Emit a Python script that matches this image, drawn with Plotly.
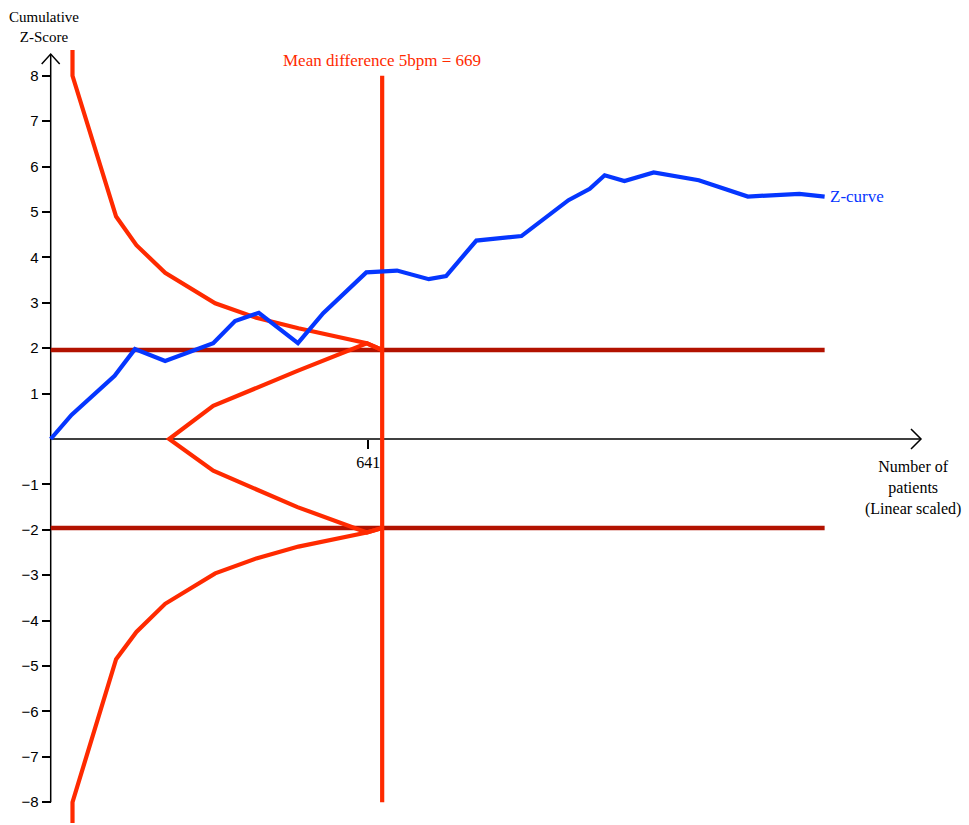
import plotly.graph_objects as go

# ---------------- data ----------------
z_patients = [0, 42, 129, 170, 231, 328, 372, 420, 499, 550, 637, 699, 763, 798,
              859, 950, 1045, 1088, 1118, 1158, 1217, 1308, 1407, 1511, 1562]
z_scores = [0, 0.53, 1.39, 1.98, 1.72, 2.11, 2.60, 2.78, 2.11, 2.77, 3.67, 3.71, 3.52, 3.59,
            4.37, 4.47, 5.26, 5.51, 5.81, 5.68, 5.87, 5.70, 5.34, 5.40, 5.34]

bound_patients = [44, 44, 132, 173, 231, 332, 415, 500, 638, 669]
upper_bound = [8.57, 8.0, 4.90, 4.27, 3.66, 2.99, 2.67, 2.44, 2.11, 1.96]
lower_bound = [-8.46, -8.0, -4.85, -4.25, -3.63, -2.96, -2.63, -2.37, -2.06, -1.96]

futility_patients = [669, 638, 498, 328, 239, 328, 498, 638, 669]
futility_z = [1.96, 2.11, 1.50, 0.73, 0, -0.70, -1.50, -2.06, -1.96]

conv_z = [1.96, -1.96]
conv_span = [0, 1562]
ris_value = 669
ris_span = [-8, 8]
x_tick_vals = [641]
x_tick_text = ["641"]
y_tick_vals = [-8, -7, -6, -5, -4, -3, -2, -1, 1, 2, 3, 4, 5, 6, 7, 8]
y_tick_text = ["−8", "−7", "−6", "−5", "−4", "−3", "−2", "−1",
               "1", "2", "3", "4", "5", "6", "7", "8"]

# ---------------- layout geometry ----------------
W, H = 969, 825
X0PX, XS = 50.7, 641 / (368.3 - 50.7)      # pixel of x=0, patients per pixel
Y0PX, YS = 439.0, 45.4                      # pixel of z=0, pixels per unit
x_range = [-X0PX * XS, (W - X0PX) * XS]
y_range = [-(H - Y0PX) / YS, Y0PX / YS]
x_axis_end = (921 - X0PX) * XS
y_axis_end = (Y0PX - 54) / YS

RED = "#FF2A00"
DARKRED = "#B21200"
BLUE = "#0536FF"
SERIF = "Liberation Serif, Times New Roman, serif"
SANS = "Liberation Sans, Arial, sans-serif"

fig = go.Figure()
for zc in conv_z:
    fig.add_trace(go.Scatter(x=conv_span, y=[zc, zc], mode="lines",
                             line=dict(color=DARKRED, width=4.5), hoverinfo="skip"))
fig.add_trace(go.Scatter(x=bound_patients, y=upper_bound, mode="lines",
                         line=dict(color=RED, width=4.2), hoverinfo="skip"))
fig.add_trace(go.Scatter(x=bound_patients, y=lower_bound, mode="lines",
                         line=dict(color=RED, width=4.2), hoverinfo="skip"))
fig.add_trace(go.Scatter(x=futility_patients, y=futility_z, mode="lines",
                         line=dict(color=RED, width=4.2), hoverinfo="skip"))
fig.add_trace(go.Scatter(x=[ris_value, ris_value], y=ris_span, mode="lines",
                         line=dict(color=RED, width=4.2), hoverinfo="skip"))
fig.add_trace(go.Scatter(x=z_patients, y=z_scores, mode="lines",
                         line=dict(color=BLUE, width=4.2), hoverinfo="skip"))

# axis lines with open arrow heads
axis_line = dict(color="black", width=1.5)
fig.add_shape(type="line", x0=0, x1=x_axis_end, y0=0, y1=0, line=axis_line, layer="below")
fig.add_shape(type="line", x0=0, x1=0, y0=-8, y1=y_axis_end, line=axis_line, layer="below")
ax_dx, ax_dy = 10 * XS, 10 / YS
fig.add_shape(type="path", line=axis_line,
              path=f"M {x_axis_end - ax_dx},{ax_dy} L {x_axis_end},0 L {x_axis_end - ax_dx},{-ax_dy}")
fig.add_shape(type="path", line=axis_line,
              path=f"M {-9 * XS},{y_axis_end - ax_dy} L 0,{y_axis_end} L {9 * XS},{y_axis_end - ax_dy}")

fig.update_layout(
    width=W, height=H, autosize=False,
    margin=dict(l=0, r=0, t=0, b=0),
    paper_bgcolor="white", plot_bgcolor="white",
    showlegend=False,
    xaxis=dict(range=x_range, domain=[0, 1], anchor="free", position=(H - Y0PX) / H,
               showgrid=False, zeroline=False, showline=False,
               tickmode="array", tickvals=x_tick_vals, ticktext=x_tick_text,
               ticks="outside", ticklen=9, tickwidth=1.5, tickcolor="black",
               tickfont=dict(family=SERIF, size=16, color="black"), automargin=False),
    yaxis=dict(range=y_range, domain=[0, 1], anchor="free", position=X0PX / W,
               showgrid=False, zeroline=False, showline=False,
               tickmode="array", tickvals=y_tick_vals, ticktext=y_tick_text,
               ticks="outside", ticklen=9, tickwidth=1.5, tickcolor="black",
               tickfont=dict(family=SANS, size=15, color="black"), automargin=False),
    annotations=[
        dict(text="Cumulative<br>Z-Score", xref="paper", yref="paper",
             x=44 / W, y=1 - 27 / H, xanchor="center", yanchor="middle", showarrow=False,
             font=dict(family=SERIF, size=15, color="black")),
        dict(text="Mean difference 5bpm = 669", xref="x", yref="paper",
             x=ris_value, y=1 - 60 / H, xanchor="center", yanchor="middle", showarrow=False,
             font=dict(family=SERIF, size=17, color=RED)),
        dict(text="Z-curve", xref="x", yref="y",
             x=z_patients[-1] + 3 * XS, y=z_scores[-1], xanchor="left", yanchor="middle",
             showarrow=False, font=dict(family=SERIF, size=17, color=BLUE)),
        dict(text="Number of<br>patients<br>(Linear scaled)", xref="paper", yref="paper",
             x=913 / W, y=1 - 488 / H, xanchor="center", yanchor="middle", showarrow=False,
             font=dict(family=SERIF, size=16, color="black")),
    ],
)

fig.write_html("out.html", post_script="document.body.style.margin='0';",
               config={"displayModeBar": False})
